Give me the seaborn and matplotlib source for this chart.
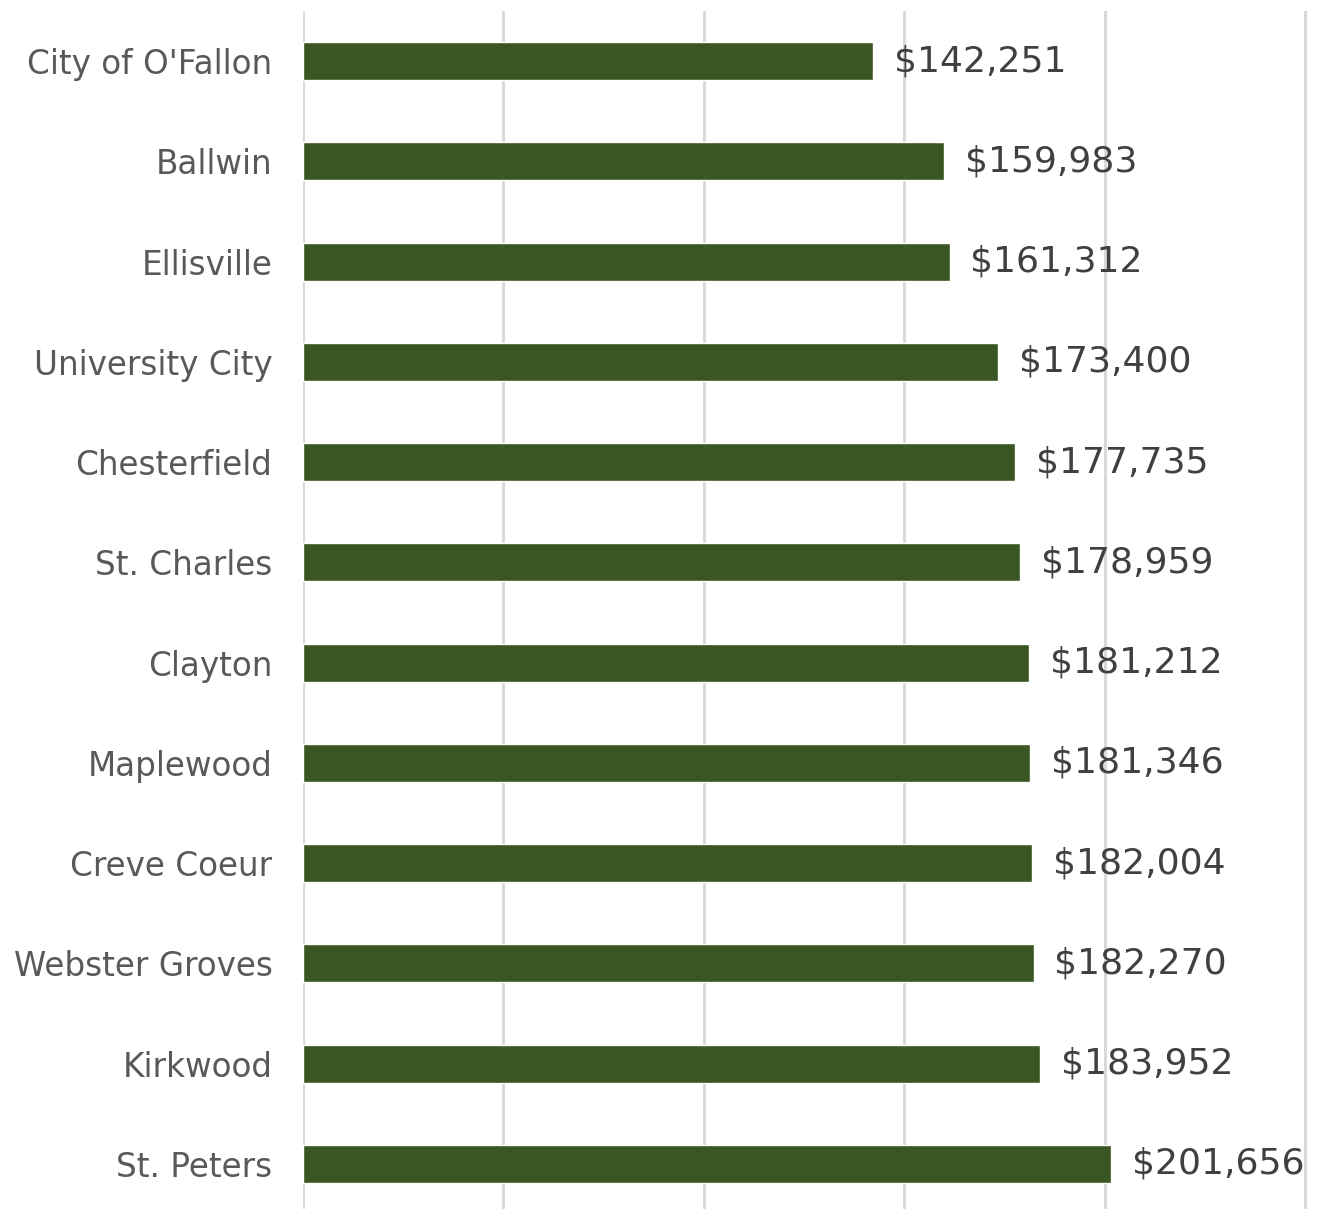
import seaborn as sns
import matplotlib.pyplot as plt
import pandas as pd

cities = ["City of O'Fallon", "Ballwin", "Ellisville", "University City",
          "Chesterfield", "St. Charles", "Clayton", "Maplewood",
          "Creve Coeur", "Webster Groves", "Kirkwood", "St. Peters"]
values = [142251, 159983, 161312, 173400, 177735, 178959,
          181212, 181346, 182004, 182270, 183952, 201656]

df = pd.DataFrame({"city": cities, "value": values})

sns.set_style("white")
plt.rcParams['font.family'] = ['DejaVu Sans']

fig = plt.figure(figsize=(13.25, 12.09), dpi=100)
# axes spans 0..~251k so the 250k gridline is not clipped at the edge
ax = fig.add_axes([303 / 1325, -5 / 1209, (1310 - 303) / 1325, (1214 - 11) / 1209])

sns.barplot(data=df, x="value", y="city", orient="h", color="#3a5623",
            width=0.38, saturation=1, ax=ax)

ax.set_xlim(0, 250000 * (1310 - 303) / (1305 - 303))
ax.set_xticks([0, 50000, 100000, 150000, 200000, 250000])
ax.xaxis.grid(True, color="#d9d9d9", linewidth=2.2)
ax.set_axisbelow(True)
ax.tick_params(axis="x", length=0, labelbottom=False)
ax.tick_params(axis="y", length=0, pad=22, labelsize=23.5, labelcolor="#595959")
for s in ax.spines.values():
    s.set_visible(False)
ax.set_xlabel("")
ax.set_ylabel("")

ax.bar_label(ax.containers[0], labels=[f"${v:,}" for v in values],
             padding=15, fontsize=26, color="#404040")

fig.savefig("out.png", dpi=100)
